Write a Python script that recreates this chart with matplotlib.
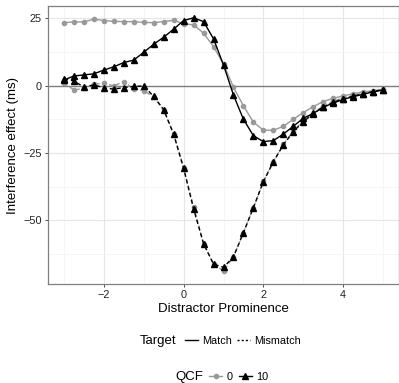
import matplotlib
matplotlib.use('Agg')
import matplotlib.pyplot as plt
from matplotlib.lines import Line2D

plt.rcParams['font.family'] = ['Liberation Sans', 'DejaVu Sans']

# distractor prominence values
prominence = [-3.0, -2.75, -2.5, -2.25, -2.0, -1.75, -1.5, -1.25, -1.0, -0.75, -0.5, -0.25,
              0.0, 0.25, 0.5, 0.75, 1.0, 1.25, 1.5, 1.75, 2.0, 2.25, 2.5, 2.75,
              3.0, 3.25, 3.5, 3.75, 4.0, 4.25, 4.5, 4.75, 5.0]

# interference effect (ms), Target x QCF
match_qcf0 = [23.4, 23.7, 23.7, 24.7, 24.2, 23.9, 23.8, 23.8, 23.5, 23.4, 23.8, 24.3,
              23.0, 22.6, 19.5, 14.5, 8.0, -0.6, -7.5, -13.6, -16.5, -16.6, -15.1, -12.5,
              -10.0, -7.8, -5.9, -4.7, -3.8, -3.0, -2.3, -1.9, -1.3]
match_qcf10 = [2.1, 3.6, 4.0, 4.4, 5.8, 7.0, 8.6, 9.5, 12.4, 15.4, 18.0, 21.0,
               24.2, 25.2, 23.8, 17.4, 7.7, -3.5, -12.5, -18.6, -20.8, -20.4, -18.0, -15.1,
               -12.1, -10.3, -8.0, -6.5, -5.1, -4.1, -3.2, -2.3, -1.6]
mismatch_qcf0 = [1.0, -1.6, -1.0, 0.6, 0.9, -0.1, 1.5, -1.3, -1.8, -4.3, -9.0, -18.0,
                 -30.5, -45.0, -58.8, -66.3, -68.8, -63.6, -54.6, -45.3, -35.6, -28.2, -21.8, -16.8,
                 -13.0, -10.0, -7.6, -5.8, -4.6, -3.6, -2.8, -2.1, -1.5]
mismatch_qcf10 = [2.4, 1.8, -0.6, 0.3, -0.8, -1.3, -0.7, -0.3, -0.1, -4.0, -8.9, -18.0,
                  -30.7, -45.8, -58.7, -66.3, -67.5, -63.6, -54.6, -45.3, -35.7, -28.3, -22.0, -17.1,
                  -13.4, -10.4, -8.0, -6.2, -4.9, -3.9, -3.0, -2.2, -1.5]

grey = '#999999'
dash = (0, (3, 2))

fig = plt.figure(figsize=(3.99, 3.83), dpi=100)
ax = fig.add_axes([48 / 399, 1 - 284 / 383, 1 - 48 / 399, 278 / 383])

ax.axhline(0, color='#7f7f7f', lw=1.0, zorder=1)

ax.plot(prominence, match_qcf0, color=grey, lw=1.0, marker='o', ms=3.0, zorder=3)
ax.plot(prominence, mismatch_qcf0, color=grey, lw=1.0, ls=dash, marker='o', ms=3.0, zorder=3)
ax.plot(prominence, match_qcf10, color='black', lw=1.0, marker='^', ms=3.8, zorder=4)
ax.plot(prominence, mismatch_qcf10, color='black', lw=1.0, ls=dash, marker='^', ms=3.8, zorder=4)

ax.set_xlim(-3.4, 5.4)
ax.set_ylim(-73.7, 29.6)
ax.set_xticks([-2, 0, 2, 4])
ax.set_yticks([-50, -25, 0, 25])
ax.set_xticks([-3, -1, 1, 3, 5], minor=True)
ax.set_yticks([-62.5, -37.5, -12.5, 12.5], minor=True)
ax.grid(True, which='major', color='#e6e6e6', lw=0.8)
ax.grid(True, which='minor', color='#f2f2f2', lw=0.5)
ax.set_axisbelow(True)
ax.tick_params(which='major', length=2.5, width=0.6, color='#333333', labelsize=7.8,
               labelcolor='#222222', pad=2)
ax.tick_params(which='minor', length=0)
for s in ax.spines.values():
    s.set_color('#7f7f7f')
    s.set_linewidth(0.9)

ax.set_xlabel('Distractor Prominence', fontsize=9.5, labelpad=2)
ax.set_ylabel('Interference effect (ms)', fontsize=9.5, labelpad=3)

# legends
fig.text(140 / 399, 1 - 341 / 383, 'Target', fontsize=9.5, va='center', ha='left')
h_target = [Line2D([], [], color='black', lw=1.0),
            Line2D([], [], color='black', lw=1.0, ls=(0, (1.5, 1.5)))]
fig.legend(h_target, ['Match', 'Mismatch'], loc='center left', bbox_to_anchor=(185 / 399, 1 - 341 / 383),
           ncol=2, frameon=False, fontsize=7.8, handlelength=1.2, handletextpad=0.4,
           columnspacing=0.4, borderaxespad=0, borderpad=0)

fig.text(175 / 399, 1 - 377 / 383, 'QCF', fontsize=9.5, va='center', ha='left')
h_qcf = [Line2D([], [], color=grey, lw=1.0, marker='o', ms=3.0),
         Line2D([], [], color='black', lw=1.0, marker='^', ms=3.8)]
fig.legend(h_qcf, ['0', '10'], loc='center left', bbox_to_anchor=(209 / 399, 1 - 377 / 383),
           ncol=2, frameon=False, fontsize=7.8, handlelength=1.2, handletextpad=0.4,
           columnspacing=0.6, borderaxespad=0, borderpad=0)

fig.savefig('out.png', dpi=100)
